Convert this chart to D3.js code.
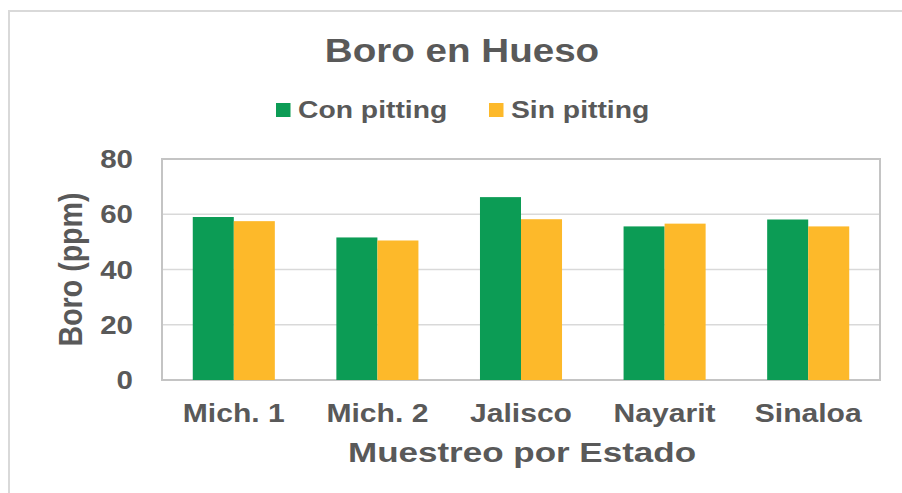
<!DOCTYPE html>
<html>
<head>
<meta charset="utf-8">
<script src="https://cdn.jsdelivr.net/npm/d3@7"></script>
<style>
  body { margin: 0; background: #fff; }
  text { font-family: "Liberation Sans", Arial, sans-serif; font-weight: bold; fill: #595959; }
</style>
</head>
<body>
<script>
const categories = ["Mich. 1", "Mich. 2", "Jalisco", "Nayarit", "Sinaloa"];
const series = ["Con pitting", "Sin pitting"];
const conPitting = [59.0, 51.6, 66.2, 55.6, 58.1];
const sinPitting = [57.5, 50.5, 58.2, 56.6, 55.6];
const yTicks = [0, 20, 40, 60, 80];
const colors = ["#0c9c55", "#fdb92a"];

const width = 902, height = 493;
const sx = 1.18; // glyphs in the reference are a bit wider than tall

const svg = d3.select("body").append("svg")
    .attr("width", width)
    .attr("height", height);

// outer chart frame (only left and top visible)
svg.append("path")
    .attr("fill", "none")
    .attr("stroke", "#d9d9d9")
    .attr("stroke-width", 2)
    .attr("d", `M9,${height}V11H${width}`);

const x0 = d3.scaleBand(categories, [162, 880]);
const x1 = d3.scaleBand(series, [0, x0.bandwidth()]).paddingOuter(0.75);
const y = d3.scaleLinear([0, 80], [380, 159]);

// gridlines
svg.append("g")
    .attr("stroke", "#d9d9d9")
    .attr("stroke-width", 1.5)
  .selectAll("line")
  .data(yTicks.slice(1, -1))
  .join("line")
    .attr("x1", 162).attr("x2", 880)
    .attr("y1", d => y(d)).attr("y2", d => y(d));

// plot frame
svg.append("rect")
    .attr("x", 162).attr("y", y(80))
    .attr("width", 880 - 162).attr("height", y(0) - y(80))
    .attr("fill", "none")
    .attr("stroke", "#c4c4c4")
    .attr("stroke-width", 2);

// bars
const rows = categories.map((c, i) => ({c, values: [conPitting[i], sinPitting[i]]}));
svg.append("g")
  .selectAll("g")
  .data(rows)
  .join("g")
    .attr("transform", d => `translate(${x0(d.c)},0)`)
  .selectAll("rect")
  .data(d => d.values.map((v, j) => ({s: series[j], v, j})))
  .join("rect")
    .attr("x", d => x1(d.s))
    .attr("width", x1.bandwidth())
    .attr("y", d => y(d.v))
    .attr("height", d => y(0) - y(d.v))
    .attr("fill", d => colors[d.j]);

// y tick labels
svg.append("g")
  .selectAll("text")
  .data(yTicks)
  .join("text")
    .attr("transform", d => `translate(133,${y(d) + 9}) scale(${sx},1)`)
    .attr("text-anchor", "end")
    .style("font-size", "25px")
    .text(d => d);

// x tick labels
svg.append("g")
  .selectAll("text")
  .data(categories)
  .join("text")
    .attr("transform", d => `translate(${x0(d) + x0.bandwidth() / 2},421.5) scale(${sx},1)`)
    .attr("text-anchor", "middle")
    .style("font-size", "25.5px")
    .text(d => d);

// axis titles
svg.append("text")
    .attr("transform", `translate(522,461.5) scale(1.25,1)`)
    .attr("text-anchor", "middle")
    .style("font-size", "28px")
    .text("Muestreo por Estado");

svg.append("text")
    .attr("transform", `translate(81.5,${(y(0) + y(80)) / 2}) scale(${sx},1) rotate(-90)`)
    .attr("text-anchor", "middle")
    .style("font-size", "28.6px")
    .text("Boro (ppm)");

// title
svg.append("text")
    .attr("transform", `translate(462,61.5) scale(${sx},1)`)
    .attr("text-anchor", "middle")
    .style("font-size", "32.7px")
    .text("Boro en Hueso");

// legend
const legendX = [276, 489];
const legend = svg.append("g")
  .selectAll("g")
  .data(series)
  .join("g")
    .attr("transform", (d, i) => `translate(${legendX[i]},0)`);
legend.append("rect")
    .attr("y", 103)
    .attr("width", 14.5).attr("height", 14)
    .attr("fill", (d, i) => colors[i]);
legend.append("text")
    .attr("transform", `translate(22,118.3) scale(1.215,1)`)
    .style("font-size", "23.3px")
    .text(d => d);
</script>
</body>
</html>
